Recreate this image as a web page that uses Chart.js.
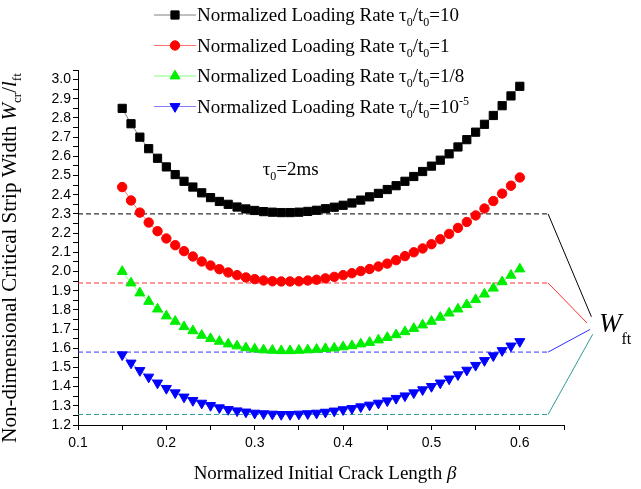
<!DOCTYPE html>
<html>
<head>
<meta charset="utf-8">
<script src="https://cdn.jsdelivr.net/npm/chart.js@4.4.1/dist/chart.umd.min.js"></script>
<style>
  html, body { margin: 0; padding: 0; background: #fff; }
  #wrap { width: 641px; height: 489px; position: relative; }
</style>
</head>
<body>
<div id="wrap"><canvas id="chart-area"></canvas></div>
<script>
// normalized initial crack length (x)
const beta = [0.15, 0.16, 0.17, 0.18, 0.19, 0.20, 0.21, 0.22, 0.23, 0.24,
              0.25, 0.26, 0.27, 0.28, 0.29, 0.30, 0.31, 0.32, 0.33, 0.34,
              0.35, 0.36, 0.37, 0.38, 0.39, 0.40, 0.41, 0.42, 0.43, 0.44,
              0.45, 0.46, 0.47, 0.48, 0.49, 0.50, 0.51, 0.52, 0.53, 0.54,
              0.55, 0.56, 0.57, 0.58, 0.59, 0.60];

// tau0/t0 = 10
const rate10 = [2.85, 2.77, 2.70, 2.64, 2.59, 2.545, 2.505, 2.47, 2.44, 2.41,
                2.385, 2.365, 2.35, 2.336, 2.326, 2.318, 2.312, 2.309, 2.307, 2.307,
                2.309, 2.313, 2.319, 2.327, 2.335, 2.345, 2.357, 2.372, 2.389, 2.407,
                2.427, 2.447, 2.47, 2.495, 2.521, 2.549, 2.58, 2.613, 2.649, 2.687,
                2.726, 2.767, 2.813, 2.864, 2.915, 2.965];
// tau0/t0 = 1
const rate1 = [2.44, 2.37, 2.307, 2.255, 2.21, 2.172, 2.137, 2.106, 2.078, 2.052,
               2.031, 2.012, 1.995, 1.981, 1.969, 1.96, 1.953, 1.949, 1.948, 1.948,
               1.949, 1.953, 1.957, 1.964, 1.972, 1.981, 1.991, 2.002, 2.013, 2.026,
               2.041, 2.059, 2.08, 2.10, 2.12, 2.142, 2.168, 2.196, 2.227, 2.258,
               2.292, 2.328, 2.367, 2.406, 2.447, 2.49];
// tau0/t0 = 1/8
const rate1_8 = [2.0, 1.94, 1.888, 1.844, 1.804, 1.768, 1.74, 1.712, 1.691, 1.667,
                 1.65, 1.636, 1.622, 1.612, 1.602, 1.596, 1.591, 1.589, 1.587, 1.587,
                 1.589, 1.591, 1.594, 1.598, 1.601, 1.607, 1.613, 1.622, 1.63, 1.643,
                 1.656, 1.67, 1.686, 1.703, 1.721, 1.74, 1.761, 1.783, 1.804, 1.827,
                 1.853, 1.882, 1.913, 1.946, 1.98, 2.013];
// tau0/t0 = 1e-5
const rate1e5 = [1.566, 1.523, 1.484, 1.45, 1.419, 1.391, 1.368, 1.346, 1.328, 1.314,
                 1.302, 1.29, 1.281, 1.274, 1.268, 1.262, 1.259, 1.257, 1.255, 1.255,
                 1.257, 1.259, 1.262, 1.267, 1.273, 1.28, 1.286, 1.295, 1.304, 1.314,
                 1.326, 1.339, 1.352, 1.368, 1.384, 1.401, 1.419, 1.44, 1.462, 1.486,
                 1.511, 1.536, 1.561, 1.588, 1.612, 1.635];

// W_ft levels and where their connectors meet at the label
const wftLevels = [2.30, 1.94, 1.58, 1.255];
const wftEndBeta = 0.632;
const wftJoinBeta = [0.681, 0.676, 0.6795, 0.6825];
const wftJoinW = [1.764, 1.732, 1.698, 1.673];

const SERIF = '"Liberation Serif", "Times New Roman", serif';
const SANS = '"Liberation Sans", Arial, sans-serif';

const seriesDefs = [
  { vals: rate10,  ratio: '10',  exp: '',   color: '#000000', line: '#808080', style: 'rect',     radius: 5.8, rot: 0 },
  { vals: rate1,   ratio: '1',   exp: '',   color: '#ff0000', line: '#ff7070', style: 'circle',   radius: 4.7, rot: 0 },
  { vals: rate1_8, ratio: '1/8', exp: '',   color: '#00ee00', line: '#80ff80', style: 'triangle', radius: 5.8, rot: 0 },
  { vals: rate1e5, ratio: '10',  exp: '-5', color: '#0000ff', line: '#8080ff', style: 'triangle', radius: 5.8, rot: 180 }
];
const refColors = ['#000000', '#ff3030', '#3030ff', '#2f9a9a'];

const datasets = [];
seriesDefs.forEach((s) => {
  datasets.push({
    data: beta.map((b, i) => ({ x: b, y: s.vals[i] })),
    borderColor: s.line,
    borderWidth: 1,
    backgroundColor: s.color,
    pointStyle: s.style,
    pointRadius: s.radius,
    pointRotation: s.rot,
    pointBackgroundColor: s.color,
    pointBorderColor: s.color,
    pointBorderWidth: 1,
    order: 1
  });
});
wftLevels.forEach((lv, i) => {
  datasets.push({
    data: [{ x: 0.1, y: lv }, { x: wftEndBeta, y: lv }],
    borderColor: refColors[i], borderWidth: 1, borderDash: [5, 3],
    pointRadius: 0, clip: false, order: 5
  });
  datasets.push({
    data: [{ x: wftEndBeta, y: lv }, { x: wftJoinBeta[i], y: wftJoinW[i] }],
    borderColor: refColors[i], borderWidth: 1,
    pointRadius: 0, clip: false, order: 5
  });
});

// draw a run of text pieces (for sub/superscripts), returns width
function drawRuns(ctx, x, y, parts, draw) {
  let cx = x;
  parts.forEach((p) => {
    ctx.font = p.f;
    if (draw) ctx.fillText(p.t, cx, y + (p.dy || 0));
    cx += ctx.measureText(p.t).width;
  });
  return cx - x;
}

function drawMarker(ctx, s, x, y) {
  const r = s.radius;
  ctx.save();
  ctx.fillStyle = s.color;
  ctx.strokeStyle = s.color;
  ctx.lineWidth = 1;
  ctx.beginPath();
  if (s.style === 'rect') {
    const h = r * Math.SQRT1_2;
    ctx.rect(x - h, y - h, 2 * h, 2 * h);
  } else if (s.style === 'circle') {
    ctx.arc(x, y, r, 0, Math.PI * 2);
  } else {
    const d = s.rot ? -1 : 1;
    ctx.moveTo(x, y - d * r);
    ctx.lineTo(x + r * 0.866, y + d * r / 2);
    ctx.lineTo(x - r * 0.866, y + d * r / 2);
    ctx.closePath();
  }
  ctx.fill();
  ctx.stroke();
  ctx.restore();
}

const textPlugin = {
  id: 'textPlugin',
  afterDraw(chart) {
    const ctx = chart.ctx;
    const xs = chart.scales.x, ys = chart.scales.y;
    const F = '19px ' + SERIF, FS = '12px ' + SERIF;
    ctx.save();
    ctx.fillStyle = '#000';
    ctx.textBaseline = 'alphabetic';
    ctx.textAlign = 'left';

    // legend
    seriesDefs.forEach((s, i) => {
      const base = 21 + i * 30.5;
      const cy = base - 6;
      ctx.strokeStyle = s.line;
      ctx.lineWidth = 1;
      ctx.beginPath();
      ctx.moveTo(154, cy);
      ctx.lineTo(196, cy);
      ctx.stroke();
      drawMarker(ctx, s, 175, cy);
      ctx.fillStyle = '#000';
      const parts = [
        { t: 'Normalized Loading Rate \u03c4', f: F },
        { t: '0', f: FS, dy: 5 },
        { t: '/t', f: F },
        { t: '0', f: FS, dy: 5 },
        { t: '=' + s.ratio, f: F }
      ];
      if (s.exp) parts.push({ t: s.exp, f: FS, dy: -8 });
      drawRuns(ctx, 197, base, parts, true);
    });

    // tau0 = 2ms
    drawRuns(ctx, xs.getPixelForValue(0.309), ys.getPixelForValue(2.505), [
      { t: '\u03c4', f: F }, { t: '0', f: FS, dy: 5 }, { t: '=2ms', f: F }
    ], true);

    // W_ft label
    const wx = xs.getPixelForValue(0.6895), wy = ys.getPixelForValue(1.683);
    drawRuns(ctx, wx, wy, [
      { t: 'W', f: 'italic 27px ' + SERIF }, { t: 'ft', f: '16px ' + SERIF, dy: 12 }
    ], true);

    // x title
    const xt = [
      { t: 'Normalized Initial Crack Length ', f: F },
      { t: '\u03b2', f: 'italic 19px ' + SERIF }
    ];
    const xw = drawRuns(ctx, 0, 0, xt, false);
    drawRuns(ctx, (chart.chartArea.left + chart.chartArea.right) / 2 - xw / 2 + 4, 479, xt, true);

    // y title (rotated)
    const yt = [
      { t: 'Non-dimensional Critical Strip Width ', f: '21px ' + SERIF },
      { t: 'W', f: 'italic 21px ' + SERIF },
      { t: 'cr', f: '13px ' + SERIF, dy: 5 },
      { t: '/', f: '21px ' + SERIF },
      { t: 'l', f: 'italic 21px ' + SERIF },
      { t: 'ft', f: '13px ' + SERIF, dy: 5 }
    ];
    const yw = drawRuns(ctx, 0, 0, yt, false);
    ctx.translate(16, 258);
    ctx.rotate(-Math.PI / 2);
    drawRuns(ctx, -yw / 2, 0, yt, true);
    ctx.restore();
  }
};

function tickLabel(v) {
  const k = Math.round(v * 100);
  return k % 10 === 0 ? (k / 100).toFixed(1) : '';
}

const ctx = document.getElementById('chart-area').getContext('2d');
window.chart = new Chart(ctx, {
  type: 'line',
  data: { datasets: datasets },
  options: {
    responsive: true,
    maintainAspectRatio: false,
    devicePixelRatio: 1,
    animation: false,
    layout: { padding: { left: 0, right: 77, top: 70, bottom: 0 } },
    plugins: {
      legend: { display: false },
      tooltip: { enabled: false }
    },
    scales: {
      x: {
        type: 'linear',
        min: 0.1,
        max: 0.65,
        afterFit(scale) { scale.height = 64; },
        ticks: {
          stepSize: 0.05,
          autoSkip: false,
          maxRotation: 0,
          padding: 5,
          color: '#000',
          font: { family: SANS, size: 14 },
          callback: tickLabel
        },
        grid: { drawOnChartArea: false, tickLength: 5, color: '#000', tickColor: '#000' },
        border: { color: '#000', width: 1 }
      },
      y: {
        type: 'linear',
        min: 1.2,
        max: 3.05,
        afterFit(scale) { scale.width = 78; },
        ticks: {
          stepSize: 0.05,
          autoSkip: false,
          padding: 2,
          color: '#000',
          font: { family: SANS, size: 14 },
          callback: tickLabel
        },
        grid: { drawOnChartArea: false, tickLength: 5, color: '#000', tickColor: '#000' },
        border: { color: '#000', width: 1 }
      }
    }
  },
  plugins: [textPlugin]
});
</script>
</body>
</html>
